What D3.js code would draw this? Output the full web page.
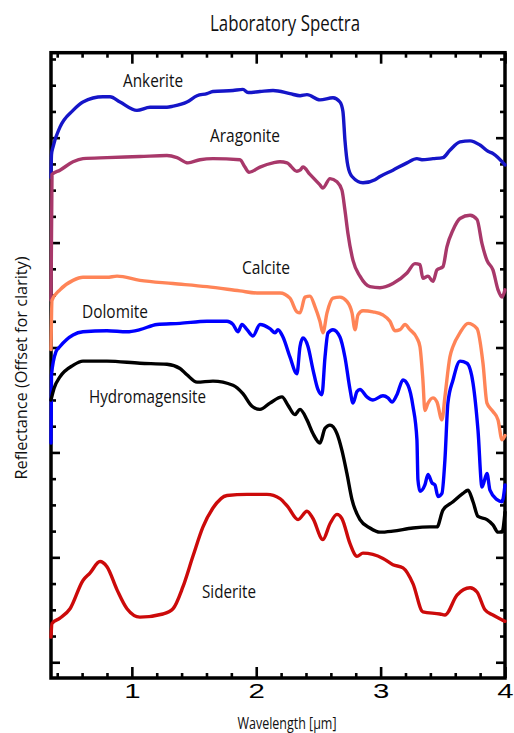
<!DOCTYPE html>
<html>
<head>
<meta charset="utf-8">
<script src="https://cdn.jsdelivr.net/npm/d3@7"></script>
<style>
  html, body { margin: 0; padding: 0; background: #fff; }
  svg { display: block; }
</style>
</head>
<body>
<svg id="chart" width="514" height="733"></svg>
<script>
// ---- Spectra (wavelength in µm, reflectance in offset units) ----
const wlAnkerite = [0.35,0.354,0.366,0.422,0.527,0.607,0.768,0.824,0.905,1.041,1.146,1.282,1.331,1.443,1.524,1.604,1.652,1.813,1.893,1.934,2.03,2.135,2.271,2.352,2.408,2.512,2.617,2.673,2.697,2.713,2.737,2.77,2.858,2.955,2.995,3.099,3.212,3.292,3.332,3.421,3.501,3.557,3.638,3.719,3.799,3.863,3.903,4.0];
const rAnkerite  = [4.62,4.84,4.91,5.10,5.26,5.34,5.39,5.39,5.34,5.26,5.29,5.29,5.30,5.34,5.40,5.42,5.44,5.45,5.46,5.43,5.44,5.45,5.42,5.40,5.41,5.36,5.38,5.34,5.25,4.98,4.73,4.63,4.57,4.60,4.63,4.69,4.76,4.80,4.79,4.80,4.81,4.88,4.96,4.97,4.93,4.87,4.85,4.74];

const wlAragonite = [0.35,0.358,0.422,0.527,0.607,0.8,1.065,1.282,1.363,1.451,1.548,1.652,1.869,1.909,1.942,2.03,2.135,2.191,2.247,2.327,2.352,2.376,2.432,2.512,2.536,2.593,2.649,2.689,2.713,2.737,2.778,2.834,2.914,2.995,3.099,3.212,3.276,3.316,3.34,3.381,3.421,3.453,3.501,3.533,3.582,3.638,3.719,3.775,3.815,3.855,3.903,3.944,3.976,4.0];
const rAragonite  = [3.45,4.65,4.69,4.77,4.80,4.81,4.82,4.83,4.81,4.76,4.79,4.80,4.79,4.72,4.67,4.72,4.76,4.77,4.76,4.68,4.69,4.72,4.65,4.55,4.52,4.61,4.58,4.50,4.31,4.09,3.83,3.68,3.58,3.57,3.61,3.71,3.80,3.79,3.66,3.68,3.63,3.74,3.77,3.96,4.12,4.23,4.26,4.22,3.99,3.83,3.74,3.55,3.48,3.55];

const wlCalcite = [0.35,0.358,0.422,0.527,0.607,0.8,0.881,1.065,1.331,1.604,1.869,2.006,2.191,2.271,2.327,2.352,2.392,2.432,2.472,2.512,2.536,2.569,2.617,2.673,2.729,2.77,2.794,2.818,2.858,2.938,3.019,3.075,3.115,3.156,3.196,3.236,3.292,3.316,3.34,3.356,3.381,3.421,3.453,3.493,3.517,3.557,3.582,3.638,3.703,3.775,3.823,3.855,3.903,3.944,3.976,4.0];
const rCalcite  = [2.98,3.45,3.55,3.64,3.67,3.67,3.68,3.64,3.61,3.58,3.54,3.52,3.52,3.47,3.34,3.33,3.48,3.49,3.39,3.25,3.14,3.33,3.47,3.48,3.44,3.33,3.17,3.31,3.35,3.34,3.31,3.25,3.16,3.17,3.22,3.17,3.09,3.01,2.69,2.40,2.47,2.52,2.48,2.31,2.53,2.91,3.01,3.14,3.23,3.18,2.85,2.47,2.39,2.31,2.12,2.16];

const wlDolomite = [0.35,0.354,0.39,0.422,0.527,0.607,0.8,0.961,1.065,1.202,1.387,1.604,1.765,1.813,1.853,1.885,1.926,1.974,2.03,2.11,2.151,2.175,2.215,2.271,2.327,2.352,2.376,2.416,2.456,2.496,2.528,2.553,2.577,2.617,2.673,2.713,2.754,2.778,2.81,2.834,2.89,2.938,3.019,3.059,3.091,3.131,3.18,3.22,3.26,3.292,3.3,3.316,3.356,3.381,3.413,3.437,3.461,3.493,3.517,3.541,3.582,3.638,3.694,3.743,3.783,3.815,3.855,3.879,3.936,3.976,4.0];
const rDolomite  = [2.09,2.74,2.96,3.01,3.12,3.15,3.16,3.15,3.17,3.22,3.23,3.25,3.25,3.22,3.15,3.22,3.17,3.11,3.22,3.18,3.14,3.17,3.10,2.91,2.75,3.01,3.09,3.01,2.79,2.60,2.55,2.91,3.14,3.17,3.10,2.91,2.60,2.47,2.58,2.60,2.53,2.50,2.54,2.52,2.48,2.55,2.69,2.64,2.44,2.12,1.74,1.63,1.69,1.79,1.71,1.69,1.58,1.61,1.93,2.47,2.69,2.87,2.85,2.66,2.21,1.67,1.80,1.64,1.55,1.53,1.69];

const wlHydromagnesite = [0.35,0.374,0.422,0.527,0.607,0.8,1.065,1.282,1.387,1.443,1.524,1.652,1.813,1.893,1.966,2.03,2.11,2.207,2.255,2.311,2.352,2.408,2.456,2.512,2.553,2.593,2.649,2.689,2.729,2.77,2.834,2.914,2.995,3.099,3.26,3.397,3.453,3.501,3.582,3.662,3.703,3.743,3.783,3.855,3.903,3.944,3.976,4.0];
const rHydromagnesite  = [2.50,2.61,2.72,2.83,2.87,2.87,2.85,2.84,2.80,2.74,2.67,2.68,2.64,2.56,2.44,2.41,2.47,2.53,2.45,2.36,2.41,2.31,2.18,2.09,2.23,2.26,2.18,2.02,1.80,1.55,1.36,1.28,1.24,1.25,1.28,1.29,1.29,1.45,1.53,1.61,1.64,1.53,1.39,1.36,1.31,1.24,1.24,1.43];

const wlSiderite = [0.35,0.358,0.422,0.503,0.607,0.663,0.744,0.8,0.881,0.961,1.065,1.25,1.331,1.411,1.491,1.572,1.652,1.765,1.926,2.086,2.191,2.255,2.336,2.408,2.456,2.536,2.593,2.649,2.689,2.754,2.81,2.858,3.019,3.099,3.18,3.26,3.34,3.477,3.517,3.614,3.719,3.775,3.839,3.903,4.0];
const rSiderite  = [0.24,0.37,0.42,0.51,0.78,0.85,0.96,0.91,0.69,0.51,0.43,0.46,0.51,0.72,1.01,1.29,1.47,1.59,1.60,1.60,1.56,1.48,1.36,1.44,1.37,1.17,1.32,1.41,1.37,1.13,1.01,1.04,0.99,0.93,0.90,0.75,0.48,0.46,0.45,0.64,0.71,0.67,0.50,0.45,0.39];

const mineralNames = ["Ankerite", "Aragonite", "Calcite", "Dolomite", "Hydromagensite", "Siderite"];

// ---- Axis ticks ----
const xMajorTicks = [1, 2, 3, 4];
const xTickLabels = ["1", "2", "3", "4"];
const xMinorTicks = [0.4, 0.6, 0.8, 1.2, 1.4, 1.6, 1.8, 2.2, 2.4, 2.6, 2.8, 3.2, 3.4, 3.6, 3.8];
const yMajorTicks = [0, 1, 2, 3, 4, 5];
const yMinorTicks = [0.25, 0.5, 0.75, 1.25, 1.5, 1.75, 2.25, 2.5, 2.75, 3.25, 3.5, 3.75, 4.25, 4.5, 4.75, 5.25, 5.5, 5.75];

// ---- Layout ----
const frame = { left: 51, right: 505, top: 52.7, bottom: 678 };
const svg = d3.select("#chart");
svg.append("rect").attr("width", 514).attr("height", 733).attr("fill", "#fff");

const x = d3.scaleLinear().domain([0.35, 4.0]).range([frame.left, frame.right]);
const y = d3.scaleLinear().domain([-0.15, 5.81]).range([frame.bottom, frame.top]);

const series = [
  { name: mineralNames[0], wl: wlAnkerite,       r: rAnkerite,       color: "#1515c8" },
  { name: mineralNames[1], wl: wlAragonite,      r: rAragonite,      color: "#a8386a" },
  { name: mineralNames[2], wl: wlCalcite,        r: rCalcite,        color: "#ff8457" },
  { name: mineralNames[3], wl: wlDolomite,       r: rDolomite,       color: "#0000ff" },
  { name: mineralNames[4], wl: wlHydromagnesite, r: rHydromagnesite, color: "#000000" },
  { name: mineralNames[5], wl: wlSiderite,       r: rSiderite,       color: "#cc0a0a" }
];

// Frame
svg.append("rect")
  .attr("x", frame.left).attr("y", frame.top)
  .attr("width", frame.right - frame.left)
  .attr("height", frame.bottom - frame.top)
  .attr("fill", "none").attr("stroke", "#000").attr("stroke-width", 3.5);

function tidy(g) {
  g.select(".domain").remove();
  g.selectAll(".tick line").attr("stroke", "#000").attr("stroke-width", 2.6);
}

// Bottom axis (inward ticks, numeric labels)
const bottomMajor = svg.append("g")
  .attr("transform", `translate(0,${frame.bottom})`)
  .call(d3.axisBottom(x).tickValues(xMajorTicks)
    .tickFormat((d, i) => xTickLabels[i]).tickSize(-11).tickPadding(5))
  .call(tidy);
bottomMajor.selectAll(".tick text")
  .attr("font-family", "'Liberation Sans', Arial, sans-serif")
  .attr("font-size", 21).attr("fill", "#000")
  .attr("transform", "scale(1.4,1)");

svg.append("g").attr("transform", `translate(0,${frame.bottom})`)
  .call(d3.axisBottom(x).tickValues(xMinorTicks).tickFormat("").tickSize(-5))
  .call(tidy);

// Top axis
svg.append("g").attr("transform", `translate(0,${frame.top})`)
  .call(d3.axisTop(x).tickValues(xMajorTicks).tickFormat("").tickSize(-11))
  .call(tidy);
svg.append("g").attr("transform", `translate(0,${frame.top})`)
  .call(d3.axisTop(x).tickValues(xMinorTicks).tickFormat("").tickSize(-5))
  .call(tidy);

// Left and right axes
svg.append("g").attr("transform", `translate(${frame.left},0)`)
  .call(d3.axisLeft(y).tickValues(yMajorTicks).tickFormat("").tickSize(-9))
  .call(tidy);
svg.append("g").attr("transform", `translate(${frame.left},0)`)
  .call(d3.axisLeft(y).tickValues(yMinorTicks).tickFormat("").tickSize(-5))
  .call(tidy);
svg.append("g").attr("transform", `translate(${frame.right},0)`)
  .call(d3.axisRight(y).tickValues(yMajorTicks).tickFormat("").tickSize(-9))
  .call(tidy);
svg.append("g").attr("transform", `translate(${frame.right},0)`)
  .call(d3.axisRight(y).tickValues(yMinorTicks).tickFormat("").tickSize(-5))
  .call(tidy);

// Spectra
const line = d3.line()
  .x(d => x(d[0]))
  .y(d => y(d[1]))
  .curve(d3.curveMonotoneX);

svg.append("g").selectAll("path")
  .data(series)
  .join("path")
  .attr("d", s => line(s.wl.map((w, i) => [w, s.r[i]])))
  .attr("fill", "none")
  .attr("stroke", s => s.color)
  .attr("stroke-width", 3.4)
  .attr("stroke-linejoin", "round")
  .attr("stroke-linecap", "round");

// Text
const textFont = "'Open Sans', 'Noto Sans', sans-serif";
function label(txt, px, py, size, width, anchor) {
  return svg.append("text")
    .attr("x", px).attr("y", py)
    .attr("font-family", textFont)
    .attr("font-size", size)
    .attr("fill", "#111")
    .attr("text-anchor", anchor || "start")
    .attr("textLength", width)
    .attr("lengthAdjust", "spacingAndGlyphs")
    .text(txt);
}

const nameLabels = [
  { px: 123, py: 87,  w: 60 },
  { px: 210, py: 142, w: 70 },
  { px: 242, py: 274, w: 48 },
  { px: 82,  py: 318, w: 66 },
  { px: 89,  py: 403, w: 117 },
  { px: 202, py: 598, w: 54 }
];
nameLabels.forEach((p, i) => label(mineralNames[i], p.px, p.py, 19, p.w));

label("Laboratory Spectra", 285, 31, 21, 150, "middle");
label("Wavelength [\u00b5m]", 287, 729, 16, 99, "middle");

svg.append("text")
  .attr("transform", "translate(27,368) rotate(-90)")
  .attr("font-family", textFont)
  .attr("font-size", 16)
  .attr("fill", "#111")
  .attr("text-anchor", "middle")
  .attr("textLength", 223)
  .attr("lengthAdjust", "spacingAndGlyphs")
  .text("Reflectance (Offset for clarity)");
</script>
</body>
</html>
